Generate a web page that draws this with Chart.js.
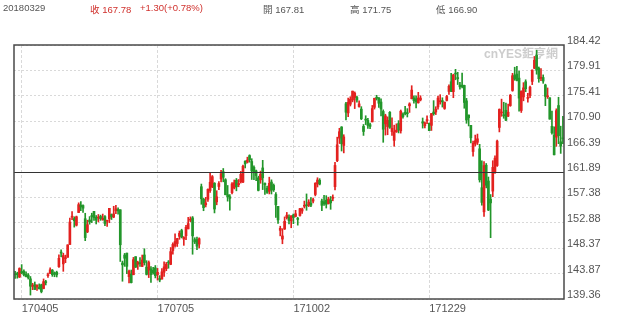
<!DOCTYPE html>
<html>
<head>
<meta charset="utf-8">
<script src="https://cdn.jsdelivr.net/npm/chart.js@4.4.1/dist/chart.umd.min.js"></script>
<style>
  body { margin: 0; background: #fff; }
  #wrap { position: relative; width: 633px; height: 325px; }
  #chart { position: absolute; left: 0; top: 0; }
  .hd { position: absolute; top: 2px; font: 9.5px "Liberation Sans", "Noto Sans CJK TC", sans-serif; color: #555; white-space: nowrap; }
  .up { color: #d0312d; }
</style>
</head>
<body>
<div id="wrap">
  <canvas id="chart" width="633" height="325"></canvas>
  <div class="hd" style="left:3px">20180329</div>
  <div class="hd up" style="left:90px">收 167.78</div>
  <div class="hd up" style="left:140px">+1.30(+0.78%)</div>
  <div class="hd" style="left:263px">開 167.81</div>
  <div class="hd" style="left:350px">高 171.75</div>
  <div class="hd" style="left:436px">低 166.90</div>
</div>
<script>
// Daily candles, 2017-03-31 .. 2018-03-29
const startDay = "2017-03-31";
const endDay = "2018-03-29";
const holidays = ["2017-04-14", "2017-05-29", "2017-07-04", "2017-09-04", "2017-11-23",
  "2017-12-25", "2018-01-01", "2018-01-15", "2018-02-19"];

const tickLabels = ["170405", "170705", "171002", "171229"];
const yTicks = [139.36, 143.87, 148.37, 152.88, 157.38, 161.89, 166.39, 170.90, 175.41, 179.91, 184.42];
const midLine = 161.89;

const opens = [
  143.72,143.71,143.25,144.22,144.29,143.73,143.60,142.94,141.60,141.91,
  141.48,141.41,141.88,141.22,142.44,143.50,143.91,144.47,143.92,144.09,
  145.10,147.54,145.59,146.52,146.76,149.03,153.87,153.63,152.45,154.70,
  156.01,155.94,153.60,151.27,153.38,154.00,154.90,153.84,153.73,154.00,
  153.42,153.97,153.17,153.58,154.34,153.90,155.02,155.25,155.19,145.74,
  147.16,147.50,143.32,143.78,143.66,146.87,145.52,145.77,145.13,147.17,
  145.01,144.49,144.71,144.45,144.88,143.69,143.02,142.90,144.11,144.73,
  145.87,145.50,147.97,148.82,149.20,150.48,151.50,149.99,150.58,151.80,
  153.35,153.75,149.89,149.90,149.10,159.28,157.05,156.07,157.06,158.60,
  159.26,159.90,156.60,159.32,160.66,161.94,160.52,157.86,157.50,158.23,
  159.07,160.43,159.65,160.14,160.10,163.80,163.64,164.80,163.75,162.71,
  162.09,160.86,160.50,162.61,159.87,158.99,158.47,160.11,159.51,157.90,
  155.80,151.54,149.99,151.78,153.80,153.89,153.21,154.26,154.01,153.63,
  154.18,154.97,155.81,156.06,155.97,156.35,156.73,157.90,159.78,160.42,
  156.75,156.61,156.89,156.29,156.91,157.23,159.29,163.89,167.90,169.87,
  166.60,174.00,172.37,173.91,174.66,175.11,175.11,173.50,173.04,169.97,
  171.18,171.04,170.29,170.78,173.36,175.10,175.05,174.30,172.63,170.43,
  169.95,172.48,169.06,167.50,169.03,170.49,169.20,172.15,172.50,172.40,
  173.63,174.88,175.03,174.87,174.17,174.68,170.80,170.10,171.00,170.52,
  170.16,172.53,172.54,173.44,174.35,174.55,173.16,174.59,176.18,177.90,
  176.15,179.37,178.61,177.30,177.30,177.25,174.51,172.00,170.16,165.53,
  166.87,167.16,166.00,159.10,154.83,163.09,160.29,157.07,158.50,161.95,
  163.04,169.79,172.36,172.05,172.83,171.80,173.67,176.35,179.10,179.26,
  178.54,172.80,175.21,177.91,174.94,175.48,177.96,180.29,182.59,180.32,
  178.50,178.65,177.32,175.24,175.04,170.00,168.39,168.07,173.68,167.25,167.81
];
const highs = [
  144.27,144.12,144.89,145.46,144.52,144.18,143.88,143.35,142.15,142.38,
  141.88,142.04,142.00,142.92,142.68,143.95,144.90,144.60,144.16,144.30,
  147.20,148.09,147.49,147.14,148.98,153.70,154.88,153.94,154.07,156.42,
  156.65,156.06,154.57,153.34,153.98,154.58,154.90,154.17,154.35,154.24,
  154.43,154.17,153.33,155.45,154.45,155.81,155.98,155.54,155.19,146.09,
  147.45,147.50,144.48,144.50,146.74,146.87,146.07,146.70,147.16,148.28,
  146.16,146.11,145.13,144.96,145.30,144.79,143.50,144.75,145.95,145.85,
  146.18,148.49,149.33,150.90,150.13,151.42,151.74,150.44,152.44,153.84,
  153.93,153.99,150.23,150.33,150.22,159.75,157.21,157.40,158.92,161.83,
  161.27,160.00,158.57,160.21,162.20,162.51,160.71,159.50,157.89,160.00,
  160.47,160.74,160.56,162.00,163.12,163.89,164.52,164.94,164.25,162.99,
  162.24,161.15,162.05,163.96,159.96,159.40,160.97,160.50,159.77,158.26,
  155.80,152.27,151.83,153.92,154.72,154.28,154.13,154.45,155.09,153.86,
  155.44,155.49,156.73,158.00,156.98,157.37,157.28,160.00,160.87,160.71,
  157.08,157.75,157.69,157.42,157.55,157.83,163.60,168.07,169.65,169.94,
  168.50,174.26,174.99,175.25,176.24,176.10,175.38,174.50,173.48,170.32,
  171.87,171.39,170.56,173.70,175.00,175.50,175.08,174.87,172.92,172.14,
  171.67,172.62,171.52,170.20,170.44,171.00,172.89,172.39,173.54,173.13,
  174.17,177.20,175.39,175.42,176.02,175.42,171.47,170.78,171.85,170.59,
  172.30,174.55,173.47,175.37,175.61,175.06,174.30,175.49,177.36,179.39,
  179.25,180.10,179.58,177.78,179.44,177.30,174.95,172.00,170.16,167.37,
  168.44,168.62,166.80,163.88,163.72,163.40,161.00,157.89,163.89,164.75,
  167.54,173.09,174.82,174.26,174.12,173.95,175.65,179.39,180.48,180.62,
  179.78,176.30,177.74,178.25,175.85,177.12,180.00,182.39,183.50,180.52,
  180.24,179.12,177.47,176.80,175.09,172.68,169.92,173.10,175.15,170.02,171.75
];
const lows = [
  143.01,143.05,143.17,143.81,143.45,143.27,142.90,140.06,141.01,141.05,
  140.87,141.11,140.45,141.16,141.85,143.18,143.87,143.38,143.31,143.27,
  144.96,146.84,144.27,145.81,146.76,149.03,153.45,152.11,152.31,154.67,
  155.05,154.72,149.71,151.13,152.63,152.91,153.31,152.67,153.03,153.31,
  153.33,152.38,152.22,152.89,153.46,153.78,154.48,154.40,146.02,142.51,
  145.15,143.84,142.21,142.20,143.66,144.94,144.61,145.12,145.11,145.38,
  143.62,143.16,142.28,143.78,143.10,142.72,142.41,142.90,143.37,144.38,
  144.82,145.44,147.33,148.57,148.67,149.95,150.19,148.88,149.90,151.80,
  153.06,147.30,149.19,148.13,148.41,156.16,155.02,155.69,156.67,158.27,
  159.11,154.63,156.07,158.75,160.14,160.15,157.84,156.72,155.11,158.02,
  158.88,158.55,159.27,159.93,160.00,162.61,163.48,163.63,160.56,160.52,
  160.36,158.53,159.89,158.77,157.91,158.09,158.00,157.99,158.44,153.83,
  152.75,150.56,149.16,151.69,153.54,152.70,152.00,152.72,153.91,152.46,
  154.05,154.56,155.49,155.10,155.75,155.73,156.41,157.65,159.23,159.60,
  155.02,155.96,155.50,156.20,155.27,156.78,158.70,163.72,166.94,165.61,
  165.28,171.12,171.72,173.60,174.33,173.14,174.27,173.40,171.18,168.38,
  170.30,169.64,169.56,170.78,173.05,174.65,173.34,171.86,167.16,168.44,
  168.50,169.63,168.40,166.46,168.91,168.82,168.79,171.46,172.00,171.65,
  172.46,174.86,174.09,173.25,174.10,174.50,169.68,169.71,170.48,169.22,
  169.26,171.96,172.08,173.05,173.93,173.41,173.00,174.49,175.65,176.14,
  175.07,178.25,177.41,176.60,176.82,173.20,170.53,170.06,167.07,164.70,
  166.50,166.76,160.10,156.00,154.00,159.07,155.03,150.24,157.51,161.65,
  162.88,169.00,171.77,171.42,171.01,171.71,173.54,176.21,178.16,178.05,
  172.66,172.45,174.52,176.13,174.27,175.07,177.39,180.21,179.24,177.81,
  178.07,177.62,173.66,174.94,171.26,168.60,164.94,166.44,166.92,165.19,166.90
];
const closes = [
  143.66,143.70,144.77,144.02,143.66,143.34,143.17,141.63,141.80,141.05,
  141.83,141.20,140.68,142.44,142.27,143.64,144.53,143.68,143.79,143.65,
  146.58,147.51,147.06,146.53,148.96,153.01,153.99,153.26,153.95,156.10,
  155.70,155.47,150.25,152.54,153.06,153.99,153.80,153.34,153.87,153.61,
  153.67,152.76,153.18,155.45,153.93,154.45,155.37,154.99,148.98,145.42,
  146.59,145.16,144.29,142.27,146.34,145.01,145.87,145.63,146.28,145.82,
  143.73,145.83,143.68,144.02,143.50,144.09,142.73,144.18,145.06,145.53,
  145.74,147.77,149.04,149.56,150.08,151.02,150.34,150.27,152.09,152.74,
  153.46,150.56,149.50,148.73,150.05,157.14,155.57,156.39,158.81,160.08,
  161.06,155.32,157.48,159.85,161.60,160.95,157.86,157.50,157.21,159.78,
  159.98,159.27,159.86,161.47,162.91,163.35,164.00,164.05,162.08,161.91,
  161.26,158.63,161.50,160.86,159.65,158.28,159.88,158.67,158.73,156.07,
  153.39,151.89,150.55,153.14,154.23,153.28,154.12,153.81,154.48,153.48,
  155.39,155.30,155.84,155.90,156.55,156.00,156.99,159.88,160.47,159.76,
  155.98,156.25,156.17,157.10,156.41,157.41,163.05,166.72,169.04,166.89,
  168.11,172.50,174.25,174.81,176.24,175.88,174.67,173.97,171.34,169.08,
  171.10,170.15,169.98,173.14,174.96,174.97,174.09,173.07,169.48,171.85,
  171.05,169.80,169.64,169.01,169.32,169.37,172.67,171.70,172.27,172.22,
  173.97,176.42,174.54,174.35,175.01,175.01,170.57,170.60,171.08,169.23,
  172.26,172.23,173.03,175.00,174.35,174.33,174.29,175.28,177.09,176.19,
  179.10,179.26,178.46,177.00,177.04,174.22,171.11,171.51,167.96,166.97,
  167.43,167.78,160.50,156.49,163.03,159.54,155.15,156.41,162.71,164.34,
  167.37,172.99,172.43,171.85,171.07,172.50,175.50,178.97,178.39,178.12,
  175.00,176.21,176.82,176.67,175.03,176.94,179.98,181.72,179.97,178.44,
  178.65,178.02,175.30,175.24,171.27,168.85,164.94,172.77,168.34,166.48,167.78
];

const upColor = "#e3211f";
const downColor = "#22962a";

// trading days as yymmdd labels
function tradingDays() {
  const out = [];
  const d = new Date(startDay + "T00:00:00Z");
  const end = new Date(endDay + "T00:00:00Z");
  while (d <= end) {
    const iso = d.toISOString().slice(0, 10);
    const wd = d.getUTCDay();
    if (wd !== 0 && wd !== 6 && !holidays.includes(iso)) {
      out.push(iso.slice(2, 4) + iso.slice(5, 7) + iso.slice(8, 10));
    }
    d.setUTCDate(d.getUTCDate() + 1);
  }
  return out;
}

const dates = tradingDays();
const candleColors = closes.map((c, i) => (c >= opens[i] ? upColor : downColor));

const framePlugin = {
  id: "frame",
  beforeDatasetsDraw(chart) {
    const { ctx, chartArea } = chart;
    ctx.save();
    ctx.font = "bold 12px 'Liberation Sans', 'Noto Sans CJK TC', sans-serif";
    ctx.fillStyle = "#cdcdcd";
    ctx.textAlign = "right";
    ctx.textBaseline = "middle";
    ctx.fillText("cnYES鉅亨網", chartArea.right - 6, 55);
    ctx.restore();
  },
  afterDatasetsDraw(chart) {
    const { ctx, chartArea } = chart;
    const y = Math.round(chart.scales.y.getPixelForValue(midLine)) + 0.5;
    ctx.save();
    ctx.strokeStyle = "#333";
    ctx.lineWidth = 1;
    ctx.beginPath();
    ctx.moveTo(chartArea.left, y);
    ctx.lineTo(chartArea.right, y);
    ctx.stroke();
    ctx.strokeStyle = "#4a4a4a";
    ctx.lineWidth = 1.5;
    ctx.strokeRect(chartArea.left, chartArea.top, chartArea.right - chartArea.left, chartArea.bottom - chartArea.top);
    ctx.restore();
  },
};

const ctx = document.getElementById("chart").getContext("2d");
new Chart(ctx, {
  type: "bar",
  data: {
    labels: dates,
    datasets: [
      {
        label: "wick",
        data: lows.map((l, i) => [l, highs[i]]),
        backgroundColor: candleColors,
        barThickness: 1,
        grouped: false,
        order: 2,
      },
      {
        label: "body",
        data: opens.map((o, i) => [o, closes[i]]),
        backgroundColor: candleColors,
        barThickness: 2,
        minBarLength: 1,
        grouped: false,
        order: 1,
      },
    ],
  },
  options: {
    responsive: false,
    animation: false,
    layout: { padding: { left: 14, top: 45, right: 0, bottom: 0 } },
    plugins: { legend: { display: false }, tooltip: { enabled: false } },
    scales: {
      x: {
        afterBuildTicks: (scale) => {
          scale.ticks = scale.ticks.filter((t) => tickLabels.includes(dates[t.value]));
        },
        afterFit: (scale) => { scale.height = 26; },
        grid: { color: "#d9d9d9", offset: false, drawTicks: false },
        border: { display: false, dash: [3, 2] },
        ticks: {
          autoSkip: false,
          maxRotation: 0,
          align: "start",
          padding: 3,
          color: "#555",
          font: { family: "'Liberation Sans', sans-serif", size: 11 },
        },
      },
      y: {
        position: "right",
        min: 139.36,
        max: 184.42,
        afterBuildTicks: (scale) => {
          scale.ticks = yTicks.map((v) => ({ value: v }));
        },
        afterFit: (scale) => { scale.width = 69; },
        grid: { color: "#d9d9d9", drawTicks: false },
        border: { display: false, dash: [2, 2] },
        ticks: {
          padding: 3,
          labelOffset: -4,
          color: "#555",
          font: { family: "'Liberation Sans', sans-serif", size: 11 },
          callback: (v) => Number(v).toFixed(2),
        },
      },
    },
  },
  plugins: [framePlugin],
});
</script>
</body>
</html>
